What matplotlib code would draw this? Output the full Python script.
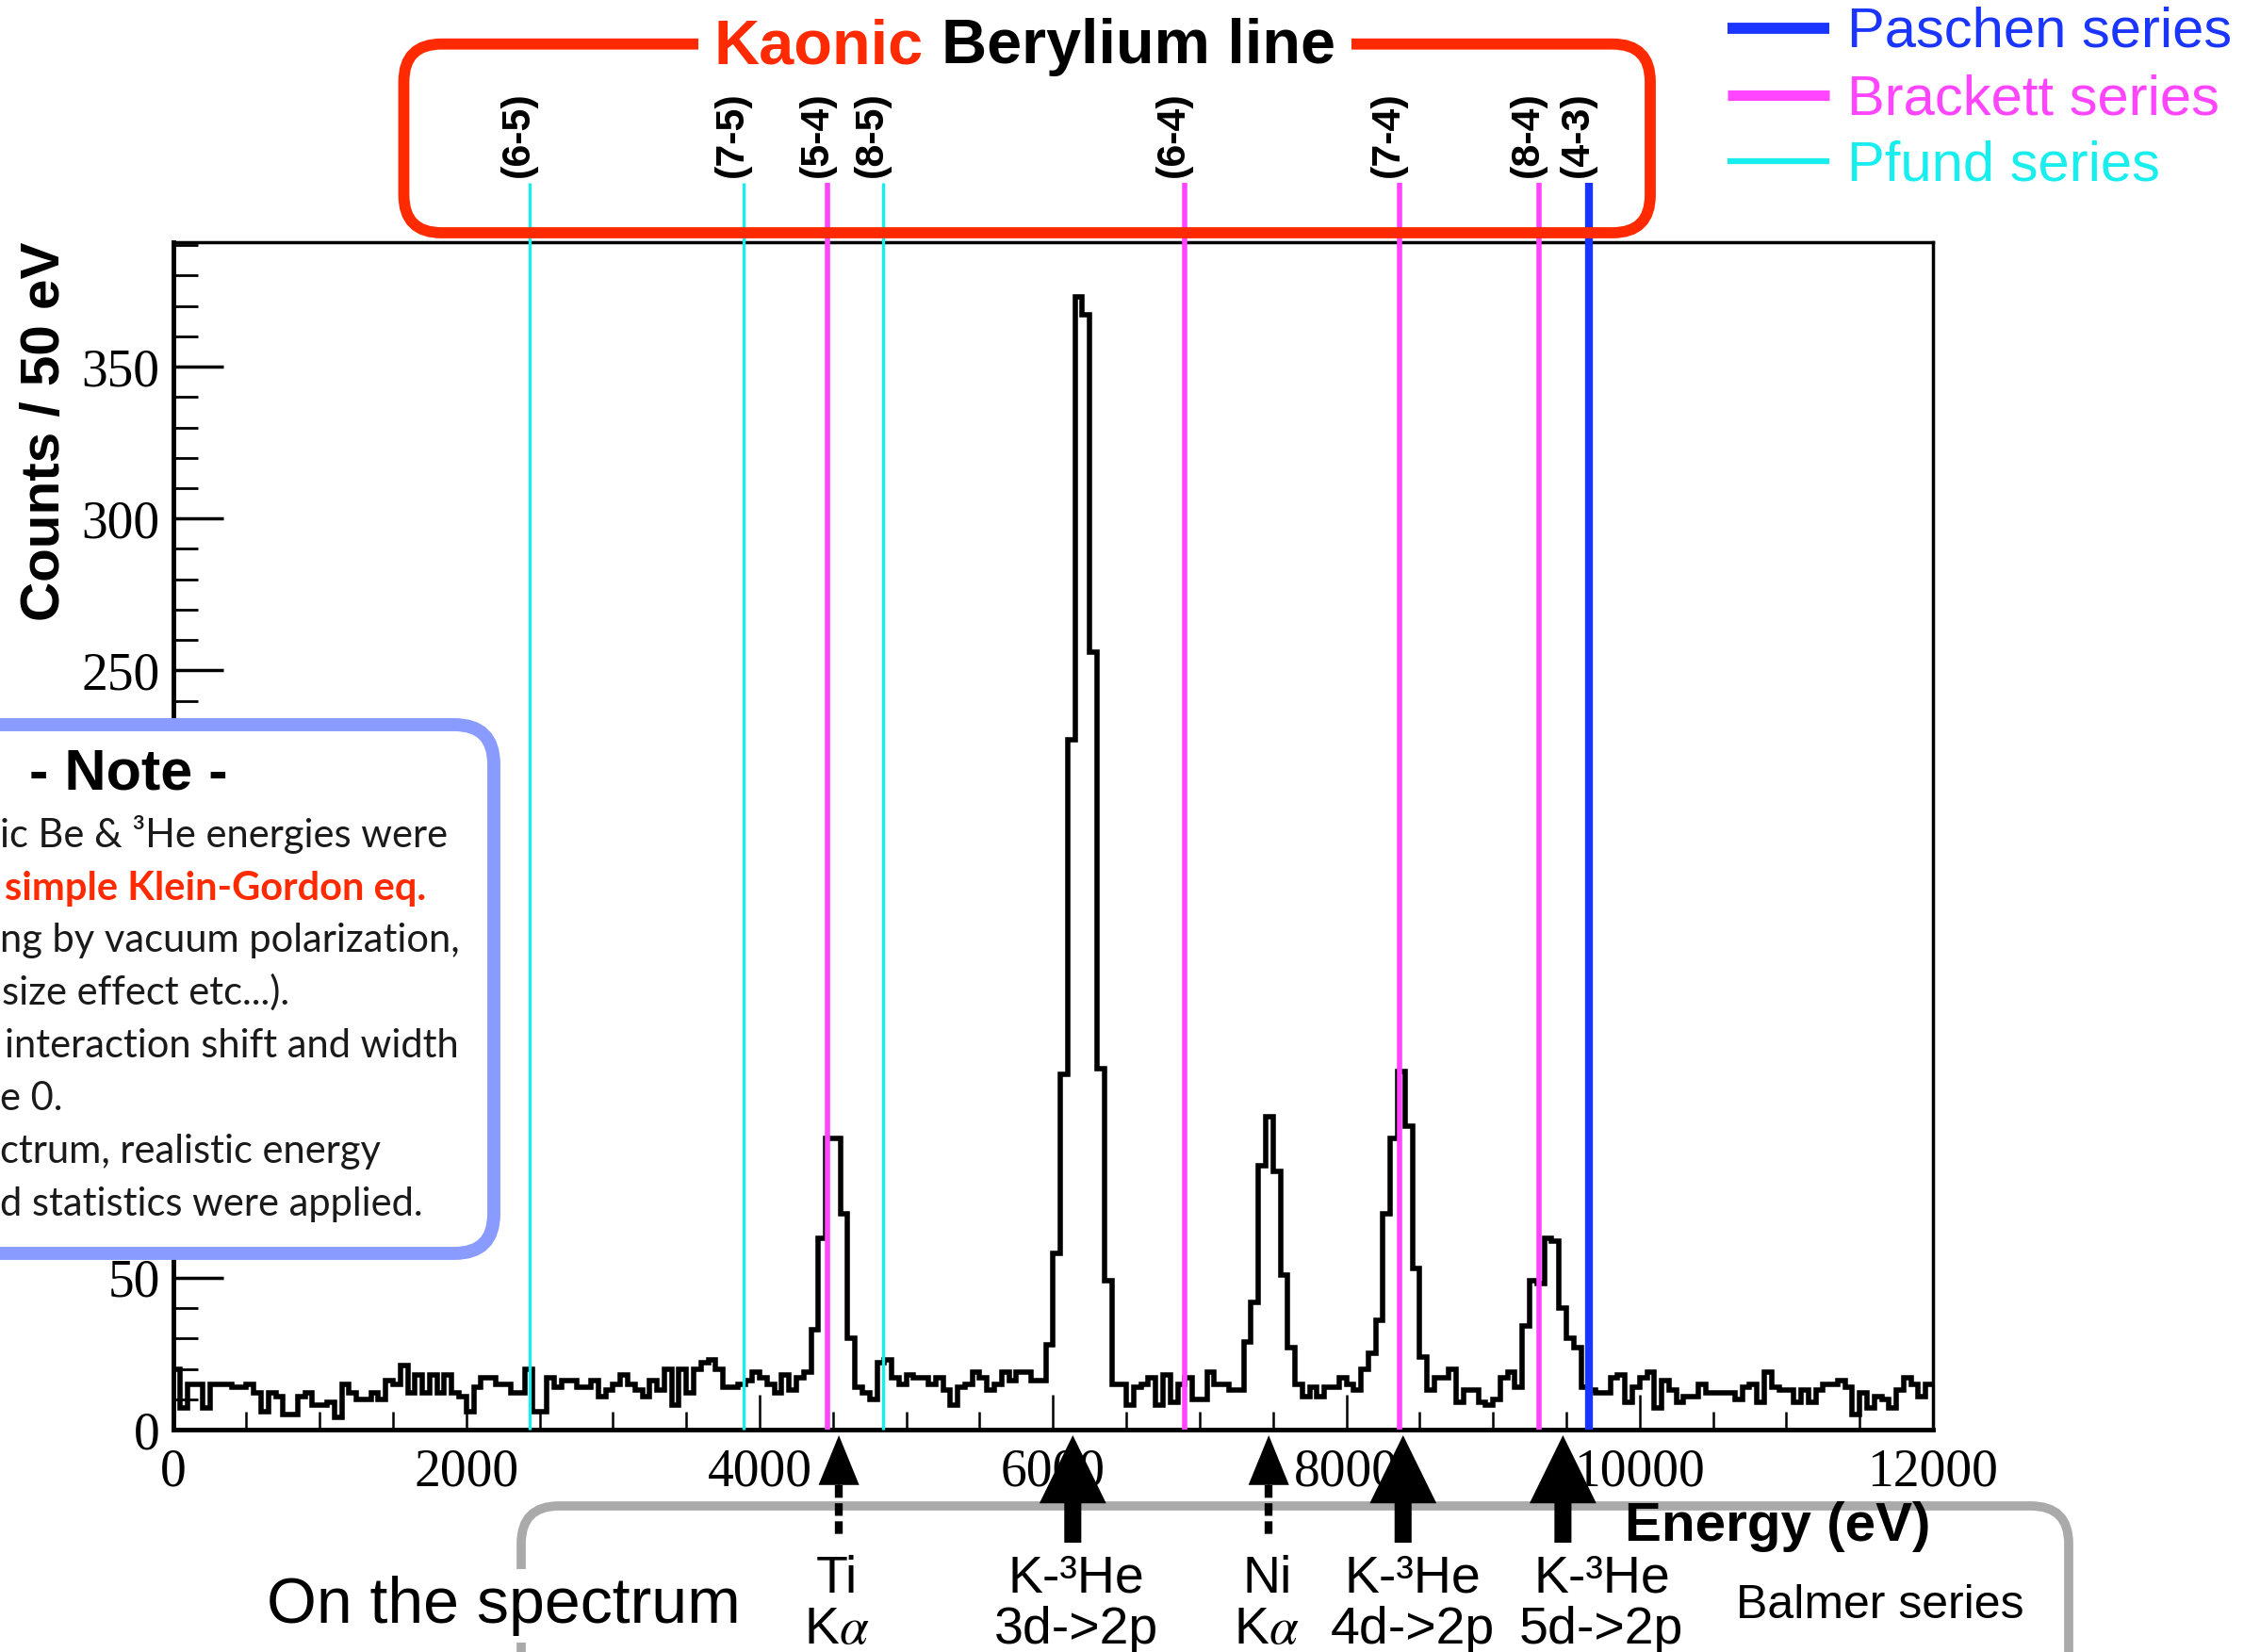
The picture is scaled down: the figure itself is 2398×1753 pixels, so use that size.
import numpy as np
import matplotlib
matplotlib.use('Agg')
import matplotlib.pyplot as plt
from matplotlib import transforms
from matplotlib.patches import FancyBboxPatch, ArrowStyle
from matplotlib.lines import Line2D
from matplotlib.ticker import MultipleLocator, FuncFormatter

plt.rcParams['font.family'] = ['Liberation Sans', 'DejaVu Sans']
plt.rcParams['mathtext.fontset'] = 'stix'

# ---- data ----
bin_edges = np.arange(0, 12001, 50)
counts = [20, 7, 15, 15, 7, 15, 15, 15, 14, 14,
          15, 12, 6, 12, 11, 5, 5, 11, 12, 8,
          8, 9, 4, 15, 12, 10, 10, 12, 10, 16,
          15, 21, 12, 18, 12, 18, 12, 18, 12, 11,
          6, 14, 17, 17, 15, 15, 12, 12, 20, 6,
          6, 17, 14, 16, 16, 14, 14, 16, 11, 13,
          15, 18, 15, 13, 11, 16, 13, 20, 8, 20,
          12, 20, 22, 23, 20, 14, 14, 15, 16, 19,
          17, 15, 12, 18, 13, 17, 19, 33, 63, 96,
          96, 71, 30, 14, 12, 10, 22, 23, 17, 15,
          18, 17, 17, 15, 17, 13, 8, 14, 15, 19,
          17, 13, 15, 19, 16, 19, 19, 16, 16, 28,
          58, 117, 227, 373, 367, 256, 119, 49, 15, 15,
          8, 14, 15, 17, 8, 18, 9, 15, 17, 10,
          10, 19, 15, 15, 13, 13, 29, 42, 87, 103,
          85, 51, 27, 15, 11, 14, 11, 14, 14, 17,
          15, 13, 20, 25, 36, 71, 96, 118, 100, 53,
          24, 13, 17, 17, 20, 9, 13, 13, 9, 8,
          10, 17, 19, 14, 34, 49, 48, 63, 62, 40,
          30, 27, 14, 13, 12, 12, 17, 18, 9, 14,
          17, 19, 7, 16, 13, 9, 11, 11, 15, 12,
          12, 12, 12, 10, 14, 15, 9, 19, 14, 13,
          13, 9, 13, 9, 13, 15, 15, 16, 14, 5,
          12, 7, 11, 10, 7, 13, 17, 15, 11, 15]

line_labels = ['(6-5)', '(7-5)', '(5-4)', '(8-5)', '(6-4)', '(7-4)', '(8-4)', '(4-3)']
line_energy = [2432, 3890, 4465, 4839, 6896, 8362, 9311, 9655]
line_series = ['Pfund', 'Pfund', 'Brackett', 'Pfund', 'Brackett', 'Brackett', 'Brackett', 'Paschen']

series_names = ['Paschen', 'Brackett', 'Pfund']
series_colors = {'Paschen': '#1a35ff', 'Brackett': '#ff45ff', 'Pfund': '#18eeee'}
series_lw = {'Paschen': 6, 'Brackett': 4, 'Pfund': 2.4}

arrow_energy = [4540, 6135, 7471, 8387, 9477]
arrow_top = ['Ti', 'K-³He', 'Ni', 'K-³He', 'K-³He']
arrow_bottom = ['K$\\alpha$', '3d->2p', 'K$\\alpha$', '4d->2p', '5d->2p']
arrow_solid = [False, True, False, True, True]
label_shift = [-2, 4, -2, 10, 41]   # label offset from arrow, px

note_lines = ['ic Be & ³He energies were', 'simple Klein-Gordon eq.',
              'ng by vacuum polarization,', 'size effect etc...).',
              'interaction shift and width', 'e 0.',
              'ctrum, realistic energy', 'd statistics were applied.']

# ---- layout helpers (pixel -> figure fraction) ----
W, H = 2398, 1753
def fx(px):
    return px / W
def fy(py):
    return 1 - py / H

fig = plt.figure(figsize=(W / 100, H / 100), dpi=100)
ax = fig.add_axes([fx(183.6), fy(1517), (2051 - 183.6) / W, (1517 - 257) / H])

ax.stairs(counts, bin_edges, color='black', linewidth=4, baseline=None, zorder=2)
ax.set_xlim(0, 12000)
ax.set_ylim(0, 391)
ax.set_xticks(np.arange(0, 12001, 2000))
ax.set_yticks(np.arange(0, 351, 50))
ax.xaxis.set_minor_locator(MultipleLocator(500))
ax.yaxis.set_minor_locator(MultipleLocator(10))
# labels 100-200 sit behind the note box
ax.yaxis.set_major_formatter(FuncFormatter(lambda v, p: '' if 90 < v < 210 else '%d' % v))
ax.tick_params(which='both', direction='in', top=False, right=False)
ax.tick_params(axis='y', which='major', length=38, width=2.5, pad=10, labelsize=40)
ax.tick_params(axis='y', which='minor', length=19, width=2)
ax.tick_params(axis='x', which='major', length=27, width=1.8, pad=14, labelsize=40)
ax.tick_params(axis='x', which='minor', length=13.5, width=1.8)
for lbl in ax.get_xticklabels() + ax.get_yticklabels():
    lbl.set_fontfamily('Liberation Serif')
for s in ['left', 'bottom']:
    ax.spines[s].set_linewidth(3.5)
for s in ['top', 'right']:
    ax.spines[s].set_linewidth(2.5)

ax.set_xlabel('Energy (eV)', fontsize=42, fontweight='bold', ha='right', va='baseline')
ax.xaxis.set_label_coords((2048 - 183.6) / 1867.4, (1517 - 1635) / 1260)
ax.set_ylabel('Counts / 50 eV', fontsize=42, fontweight='bold', ha='center', va='center')
ax.yaxis.set_label_coords((48 - 183.6) / 1867.4, (1517 - 458) / 1260)

# ---- kaonic Be lines ----
t_xa = transforms.blended_transform_factory(ax.transData, ax.transAxes)
t_lbl = transforms.offset_copy(t_xa, fig=fig, x=-12, y=0, units='dots')
for e, lab, ser in zip(line_energy, line_labels, line_series):
    ax.plot([e, e], [0, (1517 - 194) / 1260], transform=t_xa, color=series_colors[ser],
            lw=series_lw[ser], clip_on=False, zorder=3, solid_capstyle='butt')
    ax.text(e, (1517 - 188) / 1260, lab, transform=t_lbl, rotation=90, ha='center',
            va='bottom', fontsize=31, fontweight='bold', clip_on=False)

# red frame + title
fig.add_artist(FancyBboxPatch((fx(428.5), fy(247)), fx(1751) - fx(428.5), fy(46.7) - fy(247),
                              boxstyle='round,pad=0,rounding_size=0.0167', mutation_aspect=W / H,
                              transform=fig.transFigure, fill=False, ec='#ff2a00', lw=8.5, zorder=1))
tb = dict(facecolor='white', edgecolor='none', boxstyle='square,pad=0.25')
fig.text(fx(980), fy(67), 'Kaonic', color='#ff2a00', fontsize=48, fontweight='bold',
         ha='right', va='baseline', bbox=tb, zorder=3)
fig.text(fx(999), fy(67), 'Berylium line', color='black', fontsize=48, fontweight='bold',
         ha='left', va='baseline', bbox=tb, zorder=3)

# legend
leg_y = [30, 101, 171]
leg_lw = {'Paschen': 8.5, 'Brackett': 8, 'Pfund': 4.5}
for name, yy in zip(series_names, leg_y):
    fig.add_artist(Line2D([fx(1833), fx(1941)], [fy(yy), fy(yy)], color=series_colors[name],
                          lw=leg_lw[name], solid_capstyle='butt'))
    fig.text(fx(1960), fy(yy + 20), name + ' series', color=series_colors[name],
             fontsize=43, ha='left', va='baseline')

# ---- note box ----
fig.add_artist(FancyBboxPatch((fx(-60), fy(1330)), fx(524) - fx(-60), fy(769) - fy(1330),
                              boxstyle='round,pad=0,rounding_size=0.0175', mutation_aspect=W / H,
                              transform=fig.transFigure, fc='white', ec='#8a9bff', lw=10, zorder=5))
fig.text(fx(136), fy(838), '- Note -', fontsize=44, fontweight='bold', ha='center',
         va='baseline', zorder=6)
note_base = [899, 955, 1010, 1066, 1122, 1178, 1234, 1290]
note_x = [0, 5, 0, 2, 5, 0, 0, 0]
for i, (txt, yy, xx) in enumerate(zip(note_lines, note_base, note_x)):
    red = i == 1
    fig.text(fx(xx), fy(yy), txt, fontsize=30, family=['Lato', 'DejaVu Sans'],
             fontweight='bold' if red else 'normal', color='#ff2a00' if red else '#1a1a1a',
             ha='left', va='baseline', zorder=6)

# ---- bottom annotations ----
fig.add_artist(FancyBboxPatch((fx(553), fy(1900)), fx(2195) - fx(553), fy(1598) - fy(1900),
                              boxstyle='round,pad=0,rounding_size=0.0167', mutation_aspect=W / H,
                              transform=fig.transFigure, fill=False, ec='#aaaaaa', lw=7, zorder=-1))
fig.text(fx(283), fy(1722), 'On the spectrum', fontsize=49, ha='left', va='baseline',
         bbox=dict(facecolor='white', edgecolor='none', boxstyle='square,pad=0.1'), zorder=3)
fig.text(fx(1842), fy(1717), 'Balmer series', fontsize=36, ha='left', va='baseline')

t_xf = transforms.blended_transform_factory(ax.transData, fig.transFigure)
for e, top, bot, solid, dx in zip(arrow_energy, arrow_top, arrow_bottom, arrow_solid, label_shift):
    if solid:
        ax.annotate('', xy=(e, fy(1523)), xytext=(e, fy(1637)), xycoords=t_xf, textcoords=t_xf,
                    annotation_clip=False,
                    arrowprops=dict(arrowstyle=ArrowStyle.Simple(head_length=52, head_width=51, tail_width=13),
                                    mutation_scale=1, fc='black', ec='none', shrinkA=0, shrinkB=0))
    else:
        ax.annotate('', xy=(e, fy(1523)), xytext=(e, fy(1579)), xycoords=t_xf, textcoords=t_xf,
                    annotation_clip=False,
                    arrowprops=dict(arrowstyle=ArrowStyle.Simple(head_length=38, head_width=31, tail_width=1),
                                    mutation_scale=1, fc='black', ec='none', shrinkA=0, shrinkB=0))
        ax.plot([e, e], [fy(1576), fy(1632)], transform=t_xf, color='black', lw=6,
                dashes=(1.6, 0.7), clip_on=False)
    t_txt = transforms.offset_copy(t_xf, fig=fig, x=dx, y=0, units='dots')
    ax.text(e, fy(1690), top, transform=t_txt, fontsize=40, ha='center', va='baseline', clip_on=False)
    ax.text(e, fy(1744), bot, transform=t_txt, fontsize=40, ha='center', va='baseline', clip_on=False)

fig.savefig('out.png', dpi=100)
